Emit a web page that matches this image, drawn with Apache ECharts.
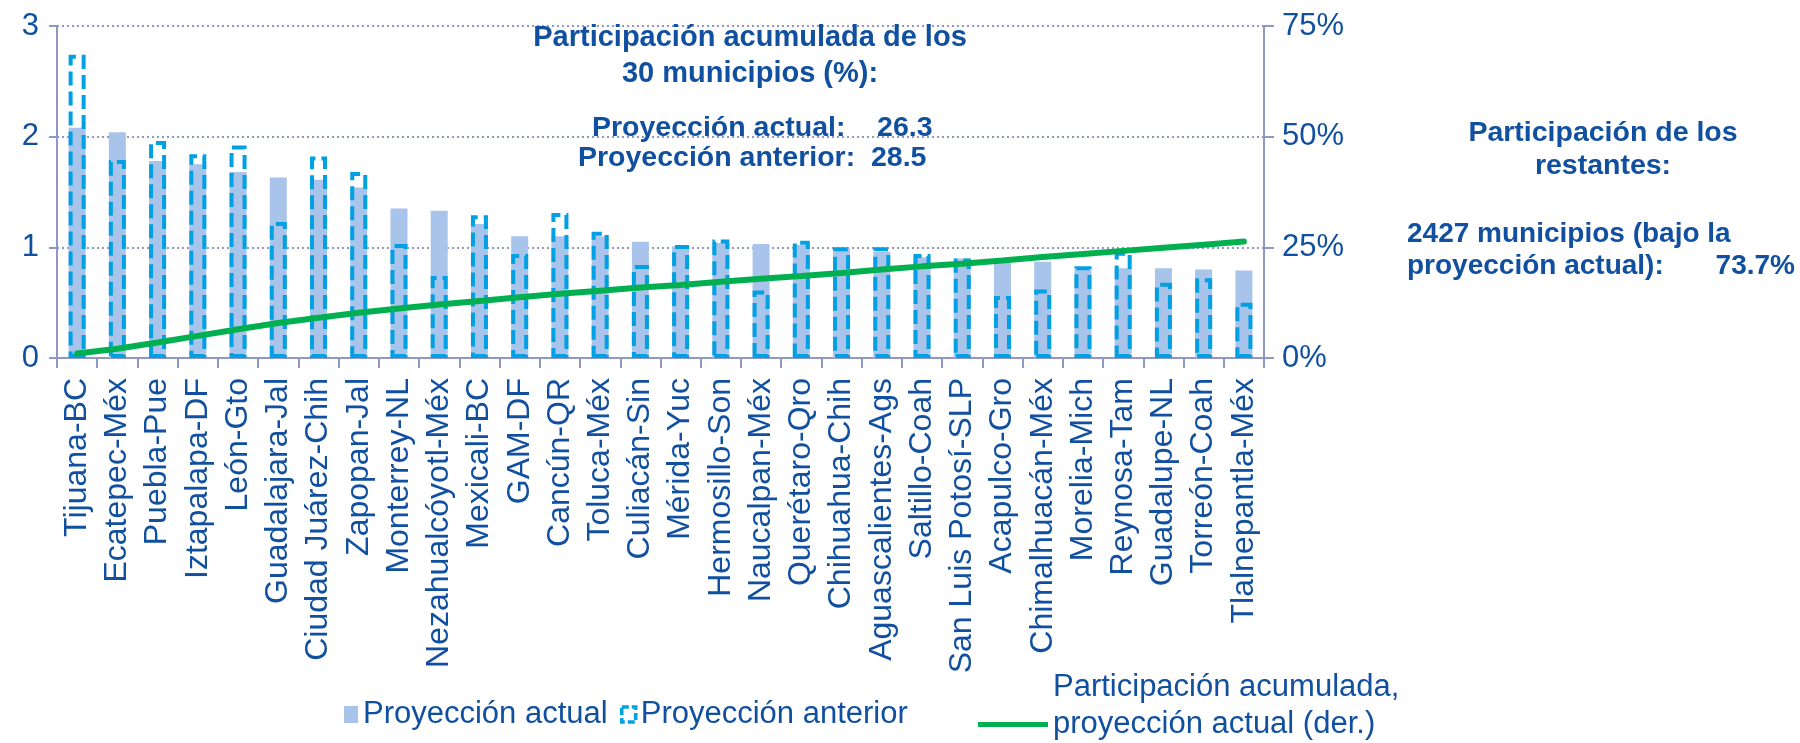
<!DOCTYPE html>
<html>
<head>
<meta charset="utf-8">
<script src="https://cdn.jsdelivr.net/npm/echarts@6/dist/echarts.min.js"></script>
<style>
  html, body { margin: 0; padding: 0; background: #fff; }
  #chart { width: 1800px; height: 743px; }
</style>
</head>
<body>
<div id="chart"></div>
<script>
  // municipios (eje x)
  var municipios = ['Tijuana-BC', 'Ecatepec-Méx', 'Puebla-Pue', 'Iztapalapa-DF', 'León-Gto',
    'Guadalajara-Jal', 'Ciudad Juárez-Chih', 'Zapopan-Jal', 'Monterrey-NL', 'Nezahualcóyotl-Méx',
    'Mexicali-BC', 'GAM-DF', 'Cancún-QR', 'Toluca-Méx', 'Culiacán-Sin', 'Mérida-Yuc',
    'Hermosillo-Son', 'Naucalpan-Méx', 'Querétaro-Qro', 'Chihuahua-Chih', 'Aguascalientes-Ags',
    'Saltillo-Coah', 'San Luis Potosí-SLP', 'Acapulco-Gro', 'Chimalhuacán-Méx', 'Morelia-Mich',
    'Reynosa-Tam', 'Guadalupe-NL', 'Torreón-Coah', 'Tlalnepantla-Méx']

  // participación (%) - proyección actual
  var actual = [2.08, 2.04, 1.78, 1.75, 1.68, 1.63, 1.61, 1.54, 1.35, 1.33,
    1.21, 1.10, 1.10, 1.10, 1.05, 1.01, 1.04, 1.03, 1.02, 0.99,
    0.96, 0.91, 0.90, 0.88, 0.87, 0.82, 0.81, 0.81, 0.80, 0.79]

  // participación (%) - proyección anterior
  var anterior = [2.74, 1.79, 1.96, 1.84, 1.92, 1.23, 1.82, 1.68, 1.03, 0.74,
    1.29, 0.94, 1.31, 1.14, 0.84, 1.02, 1.07, 0.61, 1.06, 1.00,
    1.00, 0.94, 0.90, 0.56, 0.62, 0.83, 0.96, 0.68, 0.72, 0.50]

  // participación acumulada (%), eje derecho
  var acumulada = [1.0, 2.1, 3.5, 5.0, 6.5, 7.9, 9.1, 10.2, 11.2, 12.1,
    12.9, 13.7, 14.5, 15.2, 15.9, 16.5, 17.2, 17.9, 18.5, 19.2,
    20.0, 20.7, 21.3, 22.0, 22.8, 23.5, 24.2, 24.9, 25.6, 26.3]

  var izqTicks = [0, 1, 2, 3]
  var derTicks = [0, 25, 50, 75]

  var FONT = "'Liberation Sans', Arial, sans-serif"
  var AZUL = '#1150a0'
  var EJE = '#8f97c4'

  var chart = echarts.init(document.getElementById('chart'))

  function negrita(size, lh) {
    return { color: AZUL, fontSize: size, fontWeight: 'bold', fontFamily: FONT, lineHeight: lh }
  }

  var option = {
    backgroundColor: '#fff',
    animation: false,
    textStyle: { fontFamily: FONT },
    grid: { left: 57, right: 536, top: 26, bottom: 385 },
    title: [{
      text: 'Participación acumulada de los\n30 municipios (%):',
      left: 750, top: 20, textAlign: 'center', padding: 0,
      textStyle: negrita(29, 36)
    }, {
      text: 'Proyección actual:    26.3',
      left: 592, top: 113, padding: 0,
      textStyle: negrita(28.5, 30)
    }, {
      text: 'Proyección anterior:  28.5',
      left: 578, top: 143, padding: 0,
      textStyle: negrita(28.5, 30)
    }, {
      text: 'Participación de los\nrestantes:',
      left: 1603, top: 117, textAlign: 'center', padding: 0,
      textStyle: negrita(28.5, 33)
    }, {
      text: '2427 municipios (bajo la\nproyección actual):',
      left: 1407, top: 218, padding: 0,
      textStyle: negrita(28, 32)
    }, {
      text: '73.7%',
      right: 5, top: 250, padding: 0,
      textStyle: negrita(28, 32)
    }],
    legend: [{
      left: 344, top: 699, padding: 0,
      itemWidth: 14, itemHeight: 17, itemGap: 0,
      textStyle: { color: AZUL, fontSize: 31, fontFamily: FONT },
      data: [{ name: 'Proyección actual', icon: 'rect' }]
    }, {
      left: 620, top: 699, padding: 0,
      itemWidth: 14, itemHeight: 15, itemGap: 0,
      textStyle: { color: AZUL, fontSize: 31, fontFamily: FONT },
      data: [{
        name: 'Proyección anterior', icon: 'rect',
        itemStyle: { color: '#fff', borderColor: '#00a0e3', borderWidth: 3.5, borderType: [7, 3] }
      }]
    }, {
      // tercera línea vacía para que la raya quede a la altura de la segunda
      left: 978, top: 669, padding: 0,
      itemWidth: 70, itemHeight: 5, itemGap: 0,
      textStyle: { color: AZUL, fontSize: 31, fontFamily: FONT, lineHeight: 37 },
      formatter: function () { return 'Participación acumulada,\nproyección actual (der.)\n ' },
      data: [{ name: 'acum', icon: 'rect', itemStyle: { color: '#00b050' } }]
    }],
    xAxis: {
      type: 'category',
      data: municipios,
      boundaryGap: true,
      axisLine: { lineStyle: { color: EJE, width: 2 } },
      axisTick: { show: true, length: 10, lineStyle: { color: EJE, width: 2 } },
      axisLabel: { rotate: 90, interval: 0, margin: 20, color: AZUL, fontSize: 32, fontFamily: FONT }
    },
    yAxis: [{
      type: 'value',
      min: izqTicks[0], max: izqTicks[izqTicks.length - 1], interval: 1,
      axisLine: { show: true, lineStyle: { color: EJE, width: 2 } },
      axisTick: { show: true, length: 8, lineStyle: { color: EJE, width: 2 } },
      axisLabel: { margin: 18, color: AZUL, fontSize: 31, fontFamily: FONT },
      splitLine: { show: true, lineStyle: { color: EJE, width: 2, type: [2, 3] } }
    }, {
      type: 'value',
      min: derTicks[0], max: derTicks[derTicks.length - 1], interval: 25,
      position: 'right',
      axisLine: { show: true, lineStyle: { color: EJE, width: 2 } },
      axisTick: { show: true, length: 10, lineStyle: { color: EJE, width: 2 } },
      axisLabel: { margin: 18, color: AZUL, fontSize: 31, fontFamily: FONT, formatter: '{value}%' },
      splitLine: { show: false }
    }],
    series: [{
      name: 'Proyección actual',
      type: 'bar',
      data: actual,
      barWidth: 17,
      itemStyle: { color: '#a9c4ea' },
      z: 2
    }, {
      name: 'Proyección anterior',
      type: 'bar',
      data: anterior,
      barWidth: 17,
      barGap: '-100%',
      itemStyle: {
        color: 'rgba(0,0,0,0)',
        borderColor: '#00a0e3',
        borderWidth: 4,
        borderType: [14, 6]
      },
      z: 3
    }, {
      name: 'acum',
      type: 'line',
      yAxisIndex: 1,
      data: acumulada,
      symbol: 'none',
      lineStyle: { color: '#00b050', width: 6, cap: 'round' },
      itemStyle: { color: '#00b050' },
      z: 4
    }]
  }

  chart.setOption(option)
</script>
</body>
</html>
